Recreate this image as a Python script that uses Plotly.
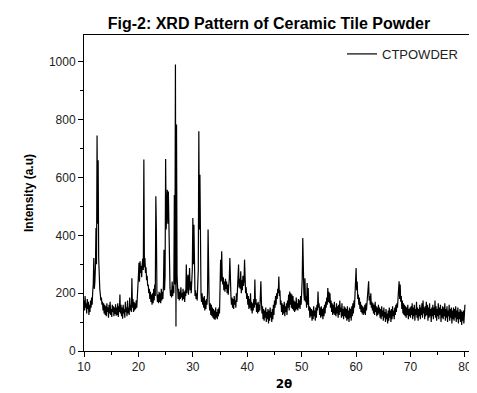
import numpy as np
import plotly.graph_objects as go

# 2-theta grid (degrees), 0.1 step from 10 to 80
two_theta = np.round(10 + 0.1 * np.arange(701), 1)

# Intensity values (a.u.), 20 values per 2 degrees
intensity = [
    175, 140, 190, 150, 165, 130, 180, 145, 170, 125, 160, 135, 175, 150, 185, 160, 205, 230, 322, 215,   # 10-12
    240, 290, 425, 300, 745, 440, 660, 320, 240, 215, 195, 175, 185, 160, 170, 140, 165, 130, 160, 125,   # 12-14
    155, 120, 165, 135, 150, 115, 160, 130, 170, 125, 145, 118, 160, 135, 155, 120, 150, 128, 162, 122,   # 14-16
    150, 125, 165, 118, 155, 135, 195, 130, 160, 120, 150, 112, 160, 130, 145, 115, 170, 135, 150, 120,   # 16-18
    175, 130, 150, 125, 185, 140, 160, 135, 252, 150, 180, 135, 170, 140, 165, 145, 175, 150, 210, 190,   # 18-20
    260, 305, 240, 310, 270, 295, 255, 300, 320, 280, 662, 290, 322, 270, 290, 245, 260, 225, 230, 200,   # 20-22
    215, 180, 205, 170, 195, 160, 200, 165, 215, 175, 230, 190, 535, 420, 200, 170, 195, 165, 205, 170,   # 22-24
    200, 165, 215, 175, 205, 180, 230, 350, 210, 260, 664, 420, 480, 558, 440, 552, 350, 250, 220, 190,   # 24-26
    210, 185, 240, 190, 225, 200, 540, 230, 991, 85, 783, 260, 210, 180, 215, 175, 205, 180, 220, 185,    # 26-28
    200, 175, 215, 180, 205, 170, 210, 190, 299, 200, 230, 264, 195, 240, 287, 210, 240, 200, 230, 280,   # 28-30
    460, 300, 437, 230, 190, 210, 180, 200, 175, 230, 280, 760, 420, 610, 250, 195, 170, 200, 160, 185,   # 30-32
    150, 190, 140, 175, 145, 180, 160, 200, 420, 210, 170, 140, 165, 125, 160, 120, 150, 115, 145, 110,   # 32-34
    140, 108, 150, 115, 135, 110, 145, 120, 150, 130, 200, 316, 240, 345, 260, 230, 255, 210, 240, 205,   # 34-36
    250, 215, 240, 200, 230, 195, 225, 250, 322, 210, 190, 160, 185, 150, 180, 145, 190, 160, 175, 150,   # 36-38
    200, 170, 230, 210, 299, 220, 250, 215, 276, 200, 245, 210, 260, 225, 240, 316, 230, 200, 220, 180,   # 38-40
    200, 160, 190, 145, 180, 150, 200, 140, 170, 130, 165, 140, 180, 150, 247, 160, 180, 135, 165, 130,   # 40-42
    170, 135, 160, 140, 185, 241, 170, 130, 155, 110, 145, 105, 140, 115, 150, 100, 135, 110, 145, 95,    # 42-44
    140, 105, 150, 115, 135, 100, 145, 110, 160, 125, 175, 150, 190, 160, 200, 180, 215, 200, 258, 190,   # 44-46
    210, 160, 175, 135, 165, 125, 160, 130, 170, 120, 155, 135, 165, 125, 175, 150, 195, 140, 206, 160,   # 46-48
    200, 150, 195, 145, 190, 140, 175, 135, 170, 140, 185, 145, 165, 140, 180, 150, 175, 145, 190, 160,   # 48-50
    210, 250, 391, 220, 200, 175, 252, 170, 190, 150, 235, 160, 218, 140, 155, 115, 150, 120, 145, 105,   # 50-52
    140, 110, 155, 120, 140, 105, 150, 115, 160, 140, 206, 150, 165, 125, 150, 115, 155, 120, 145, 110,   # 52-54
    150, 120, 160, 130, 170, 150, 185, 160, 218, 170, 205, 165, 200, 150, 175, 135, 165, 125, 160, 130,   # 54-56
    170, 125, 150, 120, 165, 130, 155, 115, 160, 125, 175, 135, 150, 115, 165, 120, 145, 110, 155, 120,   # 56-58
    150, 115, 145, 105, 155, 110, 140, 100, 150, 115, 145, 105, 155, 120, 165, 130, 175, 150, 195, 180,   # 58-60
    287, 210, 240, 180, 195, 160, 185, 145, 170, 135, 160, 130, 155, 125, 150, 130, 160, 125, 165, 140,   # 60-62
    170, 185, 200, 241, 175, 190, 160, 200, 150, 170, 140, 165, 130, 160, 125, 170, 135, 155, 120, 150,   # 62-64
    125, 160, 130, 150, 115, 145, 110, 155, 120, 140, 105, 150, 115, 135, 100, 145, 110, 130, 95, 140,    # 64-66
    105, 150, 115, 140, 100, 145, 110, 155, 120, 140, 110, 150, 125, 160, 135, 165, 150, 180, 195, 241,   # 66-68
    180, 230, 170, 190, 145, 175, 130, 165, 125, 160, 120, 155, 115, 150, 125, 160, 110, 145, 120, 150,   # 68-70
    115, 155, 125, 165, 110, 150, 120, 160, 105, 145, 125, 170, 115, 150, 105, 145, 120, 160, 110, 150,   # 70-72
    125, 165, 115, 175, 130, 150, 110, 155, 120, 170, 125, 160, 105, 150, 115, 165, 120, 145, 100, 150,   # 72-74
    120, 160, 110, 150, 125, 175, 115, 155, 105, 145, 120, 165, 110, 150, 125, 160, 100, 145, 115, 155,   # 74-76
    110, 150, 120, 165, 105, 145, 115, 155, 100, 140, 120, 160, 105, 145, 115, 150, 95, 140, 110, 150,    # 76-78
    105, 145, 115, 155, 100, 140, 110, 150, 95, 135, 110, 145, 100, 140, 90, 135, 105, 140, 95, 130,      # 78-80
    160,
]

x_ticks = [10, 20, 30, 40, 50, 60, 70, 80]
y_ticks = [0, 200, 400, 600, 800, 1000]

fig = go.Figure()
fig.add_trace(go.Scatter(
    x=two_theta, y=intensity, mode="lines", name="CTPOWDER",
    line=dict(color="black", width=1.2),
))

base = "Liberation Sans, Arial, sans-serif"
axis_font = dict(family=base, size=12, color="#222")

fig.update_layout(
    width=477, height=393,
    margin=dict(l=76, r=1, t=27, b=50),
    paper_bgcolor="white", plot_bgcolor="white",
    title=dict(
        text="<b>Fig-2: XRD Pattern of Ceramic Tile Powder</b>",
        x=0.547, xanchor="center", y=0.962, yanchor="middle",
        font=dict(family=base, size=16, color="black"),
    ),
    showlegend=True,
    legend=dict(
        x=0.645, xanchor="left", y=0.94, yanchor="middle",
        bgcolor="rgba(0,0,0,0)", font=dict(family=base, size=13, color="#222"),
    ),
    xaxis=dict(
        range=[10, 83.5], tickvals=x_ticks, ticks="outside", ticklen=5,
        tickwidth=1, tickcolor="black", showline=True, linecolor="black",
        linewidth=1, mirror=True, showgrid=False, zeroline=False,
        tickfont=axis_font,
        minor=dict(dtick=5, tick0=5, ticks="outside", ticklen=3, tickcolor="black"),
        title=dict(text="<b>2θ</b>", font=dict(family="DejaVu Sans, sans-serif", size=12, color="black"), standoff=6),
    ),
    yaxis=dict(
        range=[0, 1093], tickvals=y_ticks, ticks="outside", ticklen=5,
        tickwidth=1, tickcolor="black", showline=True, linecolor="black",
        linewidth=1, showgrid=False, zeroline=False,
        tickfont=axis_font,
        minor=dict(dtick=100, tick0=100, ticks="outside", ticklen=3, tickcolor="black"),
        title=dict(text="<b>Intensity (a.u)</b>", font=dict(family=base, size=12, color="black"), standoff=12),
    ),
)

fig.write_html("out.html")
